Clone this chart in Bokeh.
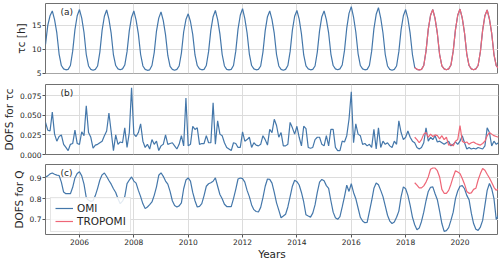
import pandas as pd
from bokeh.plotting import figure
from bokeh.models import Range1d, FixedTicker, NumeralTickFormatter, Label, Legend
from bokeh.layouts import column
from bokeh.embed import file_html
from bokeh.resources import INLINE

# ---------------- data (monthly) ----------------
OMI_START = "2004-10-01"
TROPOMI_START = "2018-05-01"
year_ticks = [2006, 2008, 2010, 2012, 2014, 2016, 2018, 2020]
tau_ticks = [5, 10, 15]
dofs_tau_ticks = [0.0, 0.025, 0.05, 0.075]
dofs_q_ticks = [0.7, 0.8, 0.9]

omi_tau = [
    11.0, 15.0, 17.0,
    18.0, 16.2, 13.4, 9.0, 6.6, 5.9, 5.7, 5.8, 6.6, 9.6, 14.1, 17.0,
    18.3, 16.5, 13.5, 8.9, 6.5, 5.8, 5.6, 5.8, 6.5, 9.4, 14.0, 16.9,
    18.2, 16.3, 13.3, 8.8, 6.6, 5.9, 5.7, 5.9, 6.7, 9.5, 13.9, 16.7,
    18.0, 16.1, 13.2, 8.9, 6.5, 5.8, 5.6, 5.7, 6.6, 9.3, 13.8, 16.5,
    17.8, 16.0, 13.0, 8.7, 6.4, 5.8, 5.6, 5.8, 6.5, 9.2, 13.6, 16.2,
    17.4, 15.8, 13.1, 8.8, 6.6, 5.9, 5.7, 5.8, 6.6, 9.5, 14.0, 16.8,
    18.1, 16.2, 13.2, 8.9, 6.5, 5.8, 5.7, 5.8, 6.6, 9.6, 14.2, 17.1,
    18.5, 16.4, 13.4, 9.0, 6.6, 5.9, 5.7, 5.8, 6.5, 9.4, 13.9, 16.8,
    18.0, 16.2, 13.3, 8.9, 6.5, 5.8, 5.6, 5.8, 6.6, 9.5, 14.0, 16.9,
    18.1, 16.3, 13.2, 8.8, 6.5, 5.9, 5.7, 5.8, 6.5, 9.4, 13.9, 16.8,
    18.0, 16.2, 13.4, 9.0, 6.6, 5.9, 5.7, 5.9, 6.7, 9.7, 14.4, 17.5,
    18.9, 16.7, 13.6, 9.1, 6.6, 5.9, 5.7, 5.8, 6.6, 9.6, 14.3, 17.3,
    18.7, 16.5, 13.4, 8.9, 6.5, 5.8, 5.6, 5.8, 6.5, 9.5, 14.1, 17.0,
    18.3, 16.4, 13.3, 8.9, 6.2, 5.8, 5.7, 5.8, 6.6, 9.6, 14.2, 17.1,
    18.3, 16.4, 13.3, 8.9, 6.5, 5.9, 5.7, 5.9, 6.7, 9.6, 14.1, 17.1,
    18.4, 16.5, 13.4, 9.0, 6.6, 5.9, 5.7, 5.9, 6.6, 9.5, 14.0, 17.0,
    18.2, 16.3, 13.3, 8.9, 6.6, 6.0,
]
tropomi_tau = [
    6.2, 5.8, 5.7, 5.8, 6.6, 9.6, 14.2, 17.1,
    18.3, 16.4, 13.3, 8.9, 6.5, 5.9, 5.7, 5.9, 6.7, 9.6, 14.1, 17.1,
    18.4, 16.5, 13.4, 9.0, 6.6, 5.9, 5.7, 5.9, 6.6, 9.5, 14.0, 17.0,
    18.2, 16.3, 13.3, 8.9, 6.6, 6.0,
]

omi_dofs_tau = [
    0.041, 0.031, 0.030, 0.054, 0.026, 0.017, 0.023, 0.025, 0.013, 0.009, 0.005, 0.013,
    0.014, 0.031, 0.014, 0.013, 0.029, 0.024, 0.062, 0.028, 0.022, 0.008, 0.012, 0.013,
    0.015, 0.017, 0.024, 0.030, 0.053, 0.029, 0.005, 0.025, 0.013, 0.016, 0.015, 0.034,
    0.009, 0.028, 0.085, 0.026, 0.023, 0.028, 0.039, 0.017, 0.009, 0.013, 0.007, 0.019,
    0.013, 0.017, 0.005, 0.011, 0.013, 0.025, 0.013, 0.014, 0.015, 0.011, 0.007, 0.013,
    0.024, 0.011, 0.072, 0.011, 0.013, 0.036, 0.032, 0.034, 0.013, 0.014, 0.014, 0.024,
    0.015, 0.015, 0.066, 0.013, 0.043, 0.026, 0.024, 0.015, 0.009, 0.007, 0.005, 0.015,
    0.014, 0.009, 0.009, 0.029, 0.017, 0.019, 0.022, 0.009, 0.015, 0.012, 0.011, 0.013,
    0.024, 0.019, 0.012, 0.032, 0.028, 0.045, 0.037, 0.022, 0.028, 0.011, 0.011, 0.013,
    0.041, 0.034, 0.026, 0.036, 0.022, 0.011, 0.036, 0.033, 0.009, 0.008, 0.009, 0.019,
    0.022, 0.022, 0.013, 0.011, 0.024, 0.011, 0.032, 0.032, 0.009, 0.005, 0.005, 0.017,
    0.016, 0.024, 0.045, 0.080, 0.015, 0.039, 0.026, 0.024, 0.013, 0.014, 0.011, 0.013,
    0.009, 0.032, 0.007, 0.034, 0.009, 0.017, 0.013, 0.015, 0.011, 0.009, 0.017, 0.013,
    0.043, 0.028, 0.019, 0.022, 0.030, 0.022, 0.017, 0.015, 0.009, 0.007, 0.009, 0.015,
    0.034, 0.017, 0.022, 0.019, 0.024, 0.016, 0.017, 0.015, 0.013, 0.015, 0.017, 0.011,
    0.013, 0.016, 0.013, 0.017, 0.024, 0.015, 0.007, 0.009, 0.007, 0.008, 0.007, 0.009,
    0.008, 0.007, 0.011, 0.034, 0.028, 0.011, 0.017, 0.013, 0.015,
]
tropomi_dofs_tau = [
    0.022, 0.019, 0.015, 0.019, 0.026, 0.028, 0.022, 0.026, 0.023, 0.025,
    0.024, 0.020, 0.024, 0.019, 0.022, 0.012, 0.013, 0.011, 0.017, 0.019,
    0.037, 0.017, 0.015, 0.016, 0.013, 0.015, 0.016, 0.014, 0.013, 0.012,
    0.014, 0.017, 0.024, 0.028, 0.026, 0.024, 0.023, 0.022,
]

omi_dofs_q = [
    0.905, 0.910, 0.920, 0.924, 0.918, 0.914, 0.912, 0.880, 0.832, 0.824, 0.824, 0.824,
    0.855, 0.900, 0.922, 0.930, 0.910, 0.870, 0.805, 0.792, 0.787, 0.790, 0.815, 0.850,
    0.890, 0.915, 0.924, 0.907, 0.888, 0.870, 0.848, 0.830, 0.800, 0.776, 0.788, 0.810,
    0.873, 0.890, 0.905, 0.885, 0.875, 0.840, 0.810, 0.775, 0.752, 0.760, 0.771, 0.784,
    0.816, 0.857, 0.913, 0.925, 0.908, 0.885, 0.870, 0.835, 0.790, 0.767, 0.760, 0.765,
    0.780, 0.848, 0.890, 0.900, 0.885, 0.830, 0.790, 0.760, 0.763, 0.776, 0.815, 0.860,
    0.872, 0.877, 0.884, 0.900, 0.860, 0.820, 0.800, 0.773, 0.762, 0.762, 0.762, 0.800,
    0.845, 0.895, 0.900, 0.897, 0.880, 0.840, 0.810, 0.770, 0.747, 0.738, 0.736, 0.758,
    0.805, 0.860, 0.895, 0.893, 0.875, 0.830, 0.780, 0.745, 0.708, 0.716, 0.725, 0.760,
    0.810, 0.860, 0.889, 0.882, 0.866, 0.830, 0.784, 0.722, 0.716, 0.711, 0.730, 0.770,
    0.830, 0.880, 0.893, 0.886, 0.863, 0.850, 0.790, 0.735, 0.708, 0.700, 0.713, 0.760,
    0.810, 0.865, 0.835, 0.872, 0.830, 0.800, 0.755, 0.710, 0.692, 0.684, 0.685, 0.738,
    0.790, 0.850, 0.876, 0.867, 0.840, 0.810, 0.765, 0.720, 0.692, 0.680, 0.687, 0.710,
    0.740, 0.810, 0.857, 0.848, 0.816, 0.768, 0.711, 0.674, 0.650, 0.658, 0.690, 0.735,
    0.790, 0.835, 0.855, 0.857, 0.824, 0.795, 0.740, 0.680, 0.642, 0.646, 0.660, 0.695,
    0.735, 0.800, 0.837, 0.860, 0.863, 0.848, 0.816, 0.795, 0.730, 0.680, 0.652, 0.647,
    0.663, 0.695, 0.768, 0.840, 0.873, 0.848, 0.800, 0.700, 0.720,
]
tropomi_dofs_q = [
    0.877, 0.865, 0.852, 0.852, 0.862, 0.880, 0.905, 0.942, 0.948, 0.948,
    0.935, 0.905, 0.845, 0.826, 0.826, 0.840, 0.870, 0.905, 0.935, 0.929,
    0.921, 0.897, 0.870, 0.835, 0.826, 0.828, 0.845, 0.850, 0.890, 0.921,
    0.946, 0.937, 0.918, 0.900, 0.878, 0.855, 0.840, 0.848,
]


def decimal_years(start, n):
    d = pd.date_range(start, periods=n, freq="MS")
    return list(d.year + (d.month - 1) / 12.0)


x_omi = decimal_years(OMI_START, len(omi_tau))
x_tro = decimal_years(TROPOMI_START, len(tropomi_tau))

# ---------------- styling ----------------
FONT = "DejaVu Sans"
BLUE = "#4477AA"
RED = "#EE6677"
TXT = "#262626"
FRAME_W = 453
FRAME_H = 70
x_range = Range1d(x_omi[0], x_omi[-1])


def panel(y_lo, y_hi, yticks, fmt, ylabel, letter, top, bottom, show_x):
    p = figure(output_backend="svg", toolbar_location=None,
               frame_width=FRAME_W, frame_height=FRAME_H,
               x_range=x_range, y_range=Range1d(y_lo, y_hi),
               min_border_left=42, min_border_right=3,
               min_border_top=top, min_border_bottom=bottom)
    p.outline_line_color = "#707070"
    p.outline_line_width = 1
    p.background_fill_color = "white"
    p.border_fill_color = "white"
    for g in (p.xgrid, p.ygrid):
        g.grid_line_color = "#dcdcdc"
        g.grid_line_width = 1
    p.xgrid.ticker = FixedTicker(ticks=year_ticks)
    p.ygrid.ticker = FixedTicker(ticks=yticks)
    p.yaxis.ticker = FixedTicker(ticks=yticks)
    p.yaxis.formatter = NumeralTickFormatter(format=fmt)
    for ax in (p.xaxis, p.yaxis):
        ax.axis_line_color = None
        ax.major_tick_line_color = "#555555"
        ax.major_tick_out = 3
        ax.major_tick_in = 0
        ax.minor_tick_line_color = None
        ax.major_label_text_font = FONT
        ax.major_label_text_font_size = "7.5px"
        ax.major_label_text_color = TXT
        ax.major_label_standoff = 1
        ax.axis_label_text_font = FONT
        ax.axis_label_text_font_size = "10.5px"
        ax.axis_label_text_font_style = "normal"
        ax.axis_label_text_color = TXT
        ax.axis_label_standoff = 2
    p.yaxis.axis_label = ylabel
    if show_x:
        p.xaxis.ticker = FixedTicker(ticks=year_ticks)
        p.xaxis.axis_label = "Years"
        p.xaxis.major_label_standoff = 1
        p.xaxis.axis_label_standoff = 0
    else:
        p.xaxis.ticker = FixedTicker(ticks=[])
    px_per_unit = FRAME_H / (y_hi - y_lo)
    p.add_layout(Label(x=x_omi[0] + 15 * (x_omi[-1] - x_omi[0]) / FRAME_W,
                       y=y_hi - 8 / px_per_unit, text=letter,
                       text_font=FONT, text_font_size="9px", text_color=TXT,
                       text_baseline="middle", text_align="left"))
    return p


pa = panel(4.93, 19.56, tau_ticks, "0", "τc [h]", "(a)", 3, 6, False)
pa.line(x_omi, omi_tau, line_color=BLUE, line_width=1.2)
pa.line(x_tro, tropomi_tau, line_color=RED, line_width=1.2)

pb = panel(0.0, 0.0893, dofs_tau_ticks, "0.000", "DOFS for τc", "(b)", 5, 5, False)
pb.line(x_omi, omi_dofs_tau, line_color=BLUE, line_width=1.2)
pb.line(x_tro, tropomi_dofs_tau, line_color=RED, line_width=1.2)

pc = panel(0.627, 0.965, dofs_q_ticks, "0.0", "DOFS for Q", "(c)", 5, 25, True)
r1 = pc.line(x_omi, omi_dofs_q, line_color=BLUE, line_width=1.2)
r2 = pc.line(x_tro, tropomi_dofs_q, line_color=RED, line_width=1.2)
legend = Legend(items=[("OMI", [r1]), ("TROPOMI", [r2])], location=(5, 2))
legend.label_text_font = FONT
legend.label_text_font_size = "10.5px"
legend.label_text_color = TXT
legend.border_line_color = "#cccccc"
legend.background_fill_alpha = 0.85
legend.padding = 4
legend.spacing = 1
legend.margin = 0
legend.glyph_width = 18
legend.glyph_height = 12
legend.label_height = 12
legend.label_standoff = 4
pc.add_layout(legend)

layout = column(pa, pb, pc, spacing=0)
open("out.html", "w").write(file_html(layout, INLINE))
